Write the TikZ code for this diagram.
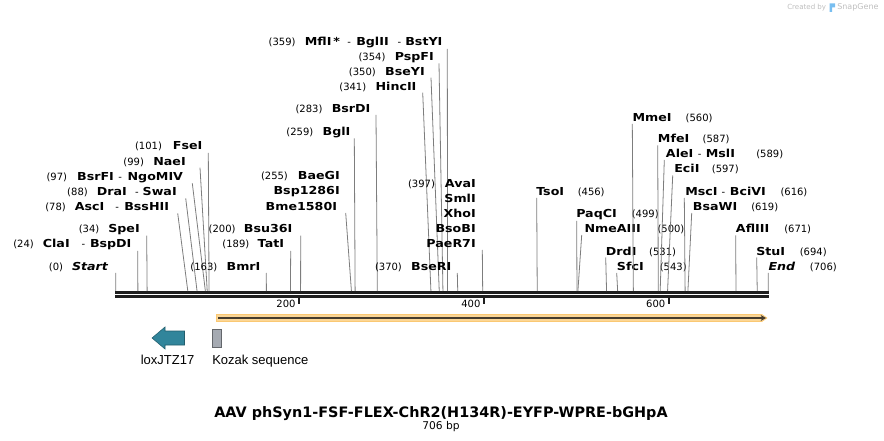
\documentclass[tikz,border=0pt]{standalone}
\usepackage{fontspec}
\setmainfont{DejaVu Sans}
\newfontfamily\enzfont{DejaVu Sans}[FakeStretch=1.15]
\newfontfamily\featfont{Liberation Sans}
\usetikzlibrary{
    arrows.meta,
    calc
}
\definecolor{sitegrey}{RGB}{125,125,125}
\definecolor{barblack}{RGB}{30,30,30}
\definecolor{featorange}{RGB}{250,200,115}
\definecolor{featdark}{RGB}{70,60,45}
\definecolor{loxteal}{RGB}{49,133,155}
\definecolor{kozakgrey}{RGB}{165,170,178}
\definecolor{snapgrey}{RGB}{190,190,190}
\definecolor{snapblue}{RGB}{120,190,240}
\newcommand{\enz}[1]{{\enzfont\bfseries\fontsize{8.25pt}{10pt}\selectfont #1}}
\newcommand{\enzit}[1]{{\enzfont\bfseries\itshape\fontsize{8.25pt}{10pt}\selectfont #1}}
\tikzset{
    lbl/.style={inner sep=0pt, font=\fontsize{7.5pt}{9pt}\selectfont},
    cut/.style={draw=sitegrey, line width=0.6pt},
    bar/.style={draw=barblack, line width=2pt},
    tickmark/.style={draw=barblack, line width=1.5pt},
    feat/.style={inner sep=0pt, font=\featfont\fontsize{9.75pt}{11pt}\selectfont},
}

\begin{document}
\begin{tikzpicture}[x=0.75pt, y=-0.75pt]
    \useasboundingbox (0,0) rectangle (884,441);

    % cut positions on the sequence line
    \foreach \bp in {0,24,34,78,88,97,99,101,163,189,200,255,259,283,341,350,354,359,370,397,
                     456,499,500,531,543,560,587,589,597,616,619,671,694,706}
        \coordinate (b\bp) at ({115.7+0.9244*\bp},291);

    % sequence line
    \draw[bar] (115,292.3) -- (768.6,292.3);
    \draw[bar] (115,296.3) -- (768.6,296.3);
    \foreach \t in {200,400,600} {
        \draw[tickmark] ({113.9+0.9244*\t},297) -- ++(0,7);
        \node[lbl, anchor=base east] (t\t) at ({110.9+0.9244*\t},307.5) {\t};
    }

    %% Sites, label left of the cut
    \node[lbl, anchor=base east] (Start) at (108.3,270.5) {(0)\hspace{6.75pt}\enzit{Start}};
    \draw[cut] (Start.base east) ++(7.4,2.5) -- (b0);
    \node[lbl, anchor=base east] (ClaI) at (131.7,248) {(24)\hspace{6.75pt}\enz{ClaI}\hspace{9pt}-\hspace{3.5pt}\enz{BspDI}};
    \draw[cut] (ClaI.base east) ++(6,3) -- (b24);
    \node[lbl, anchor=base east] (SpeI) at (140,232.7) {(34)\hspace{6.75pt}\enz{SpeI}};
    \draw[cut] (SpeI.base east) ++(6.7,3) -- (b34);
    \node[lbl, anchor=base east] (AscI) at (169.3,210.7) {(78)\hspace{6.75pt}\enz{AscI}\hspace{8.25pt}-\hspace{4pt}\enz{BssHII}};
    \draw[cut] (AscI.base east) ++(8.4,2.6) -- (b78);
    \node[lbl, anchor=base east] (DraI) at (177,195.7) {(88)\hspace{6.75pt}\enz{DraI}\hspace{6.25pt}-\hspace{3pt}\enz{SwaI}};
    \draw[cut] (DraI.base east) ++(8.7,2.6) -- (b88);
    \node[lbl, anchor=base east] (BsrFI) at (183.3,180.5) {(97)\hspace{7.5pt}\enz{BsrFI}\hspace{3.3pt}-\hspace{4.3pt}\enz{NgoMIV}};
    \draw[cut] (BsrFI.base east) ++(9,2.8) -- (b97);
    \node[lbl, anchor=base east] (NaeI) at (186,165.5) {(99)\hspace{7pt}\enz{NaeI}};
    \draw[cut] (NaeI.base east) ++(14,2.2) -- (b99);
    \node[lbl, anchor=base east] (FseI) at (202.7,150) {(101)\hspace{8.25pt}\enz{FseI}};
    \draw[cut] (FseI.base east) ++(5.6,3) -- (b101);
    \node[lbl, anchor=base east] (BmrI) at (260.7,270.5) {(163)\hspace{7pt}\enz{BmrI}};
    \draw[cut] (BmrI.base east) ++(5.6,2.5) -- (b163);
    \node[lbl, anchor=base east] (TatI) at (284.3,248) {(189)\hspace{6.3pt}\enz{TatI}};
    \draw[cut] (TatI.base east) ++(6.4,3) -- (b189);
    \node[lbl, anchor=base east] (Bsu36I) at (292.7,232.7) {(200)\hspace{6.3pt}\enz{Bsu36I}};
    \draw[cut] (Bsu36I.base east) ++(8,3) -- (b200);
    \node[lbl, anchor=base east] (BaeGI) at (340,180) {(255)\hspace{7.5pt}\enz{BaeGI}};
    \node[lbl, anchor=base east] (Bsp1286I) at (340,195) {\enz{Bsp1286I}};
    \node[lbl, anchor=base east] (Bme1580I) at (337.3,210.5) {\enz{Bme1580I}};
    \draw[cut] (Bme1580I.base east) ++(8.4,2.5) -- (b255);
    \node[lbl, anchor=base east] (BglI) at (350.7,135.5) {(259)\hspace{7pt}\enz{BglI}};
    \draw[cut] (BglI.base east) ++(3.6,2.8) -- (b259);
    \node[lbl, anchor=base east] (BsrDI) at (370.7,113) {(283)\hspace{7pt}\enz{BsrDI}};
    \draw[cut] (BsrDI.base east) ++(5.3,2) -- (b283);
    \node[lbl, anchor=base east] (HincII) at (416.7,90.5) {(341)\hspace{7pt}\enz{HincII}};
    \draw[cut] (HincII.base east) ++(6,2.2) -- (b341);
    \node[lbl, anchor=base east] (BseYI) at (425,75.5) {(350)\hspace{7pt}\enz{BseYI}};
    \draw[cut] (BseYI.base east) ++(6,2.2) -- (b350);
    \node[lbl, anchor=base east] (PspFI) at (434,61) {(354)\hspace{7pt}\enz{PspFI}};
    \draw[cut] (PspFI.base east) ++(5,2.3) -- (b354);
    \node[lbl, anchor=base east] (MflI) at (442.7,45.5) {(359)\hspace{7pt}\enz{MflI\,*}\hspace{5.5pt}-\hspace{4pt}\enz{BglII}\hspace{6.75pt}-\hspace{3pt}\enz{BstYI}};
    \draw[cut] (MflI.base east) ++(4.6,3.5) -- (b359);
    \node[lbl, anchor=base east] (BseRI) at (451.7,270.5) {(370)\hspace{7pt}\enz{BseRI}};
    \draw[cut] (BseRI.base east) ++(5.6,2.5) -- (b370);
    \node[lbl, anchor=base east] (AvaI) at (476,188) {(397)\hspace{7.5pt}\enz{AvaI}};
    \node[lbl, anchor=base east] (SmlI) at (476,203) {\enz{SmlI}};
    \node[lbl, anchor=base east] (XhoI) at (476,218) {\enz{XhoI}};
    \node[lbl, anchor=base east] (BsoBI) at (476,233) {\enz{BsoBI}};
    \node[lbl, anchor=base east] (PaeR7I) at (476,247.5) {\enz{PaeR7I}};
    \draw[cut] (PaeR7I.base east) ++(6.3,2.5) -- (b397);

    %% Sites, label right of the cut
    \node[lbl, anchor=base west] (TsoI) at (536,195.5) {\enz{TsoI}\hspace{10.2pt}(456)};
    \draw[cut] (TsoI.base west) ++(0.7,2.5) -- (b456);
    \node[lbl, anchor=base west] (PaqCI) at (576,218) {\enz{PaqCI}\hspace{11.25pt}(499)};
    \draw[cut] (PaqCI.base west) ++(0.7,3) -- (b499);
    \node[lbl, anchor=base west] (NmeAIII) at (584.3,233) {\enz{NmeAIII}\hspace{12.5pt}(500)};
    \draw[cut] (NmeAIII.base west) ++(-2.6,2) -- (b500);
    \node[lbl, anchor=base west] (DrdI) at (605.7,255.5) {\enz{DrdI}\hspace{9.5pt}(531)};
    \draw[cut] (DrdI.base west) ++(0,2) -- (b531);
    \node[lbl, anchor=base west] (SfcI) at (616.7,270.5) {\enz{SfcI}\hspace{12pt}(543)};
    \draw[cut] (SfcI.base west) ++(0,2.5) -- (b543);
    \node[lbl, anchor=base west] (MmeI) at (632.3,121.5) {\enz{MmeI}\hspace{10.5pt}(560)};
    \draw[cut] (MmeI.base west) ++(0,2.5) -- (b560);
    \node[lbl, anchor=base west] (MfeI) at (657.7,143) {\enz{MfeI}\hspace{10pt}(587)};
    \draw[cut] (MfeI.base west) ++(0,2.5) -- (b587);
    \node[lbl, anchor=base west] (AleI) at (665.7,157.5) {\enz{AleI}\hspace{3.3pt}-\hspace{3.3pt}\enz{MslI}\hspace{16pt}(589)};
    \draw[cut] (AleI.base west) ++(-1.4,2.5) -- (b589);
    \node[lbl, anchor=base west] (EciI) at (674,173) {\enz{EciI}\hspace{9.3pt}(597)};
    \draw[cut] (EciI.base west) ++(-1.3,2.5) -- (b597);
    \node[lbl, anchor=base west] (MscI) at (685,195.5) {\enz{MscI}\hspace{3pt}-\hspace{3.5pt}\enz{BciVI}\hspace{11pt}(616)};
    \draw[cut] (MscI.base west) ++(-0.7,2.5) -- (b616);
    \node[lbl, anchor=base west] (BsaWI) at (692.7,210.5) {\enz{BsaWI}\hspace{10.5pt}(619)};
    \draw[cut] (BsaWI.base west) ++(-1,2.5) -- (b619);
    \node[lbl, anchor=base west] (AflIII) at (735.7,233) {\enz{AflIII}\hspace{11.25pt}(671)};
    \draw[cut] (AflIII.base west) ++(0,2.5) -- (b671);
    \node[lbl, anchor=base west] (StuI) at (756,255.5) {\enz{StuI}\hspace{11pt}(694)};
    \draw[cut] (StuI.base west) ++(0.7,2) -- (b694);
    \node[lbl, anchor=base west] (End) at (768.3,270.5) {\enzit{End}\hspace{11pt}(706)};
    \draw[cut] (End.base west) ++(0,2.5) -- (b706);

    %% Features
    \filldraw[fill=featorange!75, draw=featorange] (216.5,314.5) -- (762,314.5) -- (767,318) -- (762,321.5) -- (216.5,321.5) -- cycle;
    \draw[featdark, line width=1.5pt, -{Stealth[length=4pt,width=4.5pt]}] (218,318) -- (766,318);
    \filldraw[fill=loxteal, draw=loxteal!70!black] (152,338) -- (165,327) -- (165,331) -- (184.5,331) -- (184.5,345) -- (165,345) -- (165,349) -- cycle;
    \filldraw[fill=kozakgrey, draw=kozakgrey!60!black] (212,329.5) rectangle (221.5,347);
    \node[feat, anchor=base] (lox) at (167.5,364) {loxJTZ17};
    \node[feat, anchor=base west] (kozak) at (212,364) {Kozak sequence};

    %% Title
    \node[inner sep=0pt, font=\fontsize{10.8pt}{13pt}\selectfont\bfseries, anchor=base] (title) at (441,417) {AAV phSyn1-FSF-FLEX-ChR2(H134R)-EYFP-WPRE-bGHpA};
    \node[lbl, font=\fontsize{8pt}{9pt}\selectfont, anchor=base] (length) at (441,429) {706 bp};

    % credit
    \node[inner sep=0pt, anchor=base west, text=snapgrey, font=\fontsize{5.3pt}{6pt}\selectfont] (created) at (787,10) {Created by};
    \fill[snapblue] (829.5,3.5) -- (835,3.5) -- (835,7.5) -- (832,7.5) -- (832,12) -- (829.5,12) -- cycle;
    \node[inner sep=0pt, anchor=base west, text=snapgrey, font=\fontsize{6pt}{7pt}\selectfont] (snapgene) at (837,10) {SnapGene};
\end{tikzpicture}
\end{document}
